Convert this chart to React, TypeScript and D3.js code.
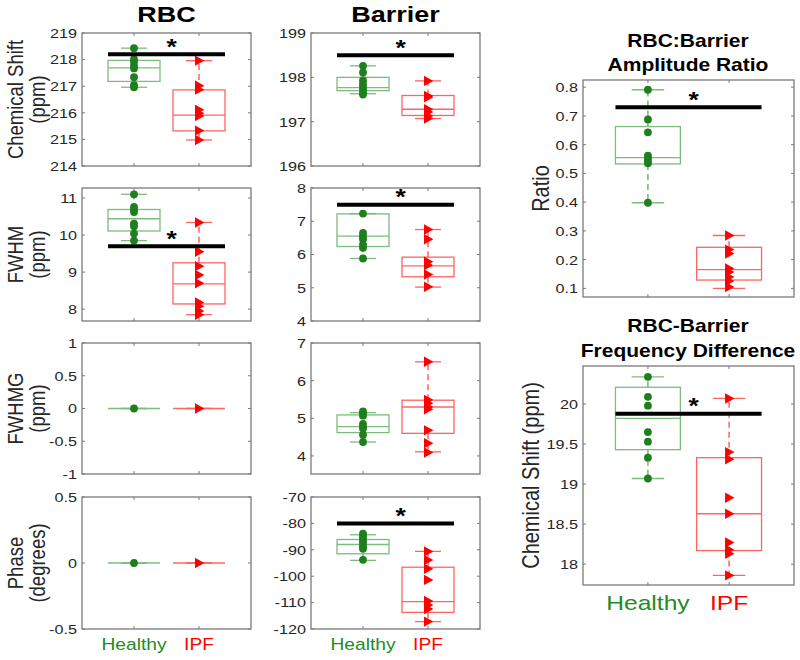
import React from 'react';
import * as d3 from 'd3';

// ---------- data ----------
const groups = ['Healthy', 'IPF'];

// box stats: [lower whisker, q1, median, q3, upper whisker]
const rbcShiftHealthy = [218.43, 218.02, 217.92, 217.77, 217.67, 217.34, 217.04, 216.96];
const rbcShiftIPF = [217.96, 217.02, 216.87, 216.11, 215.98, 215.88, 215.33, 214.98];
const rbcShiftBoxHealthy = [216.96, 217.18, 217.69, 217.97, 218.43];
const rbcShiftBoxIPF = [214.98, 215.32, 215.91, 216.86, 217.96];
const rbcShiftTicks = [214, 215, 216, 217, 218, 219];
const rbcShiftSig = 218.2;

const barShiftHealthy = [198.26, 198.11, 197.93, 197.85, 197.78, 197.72, 197.65, 197.61];
const barShiftIPF = [197.92, 197.58, 197.55, 197.28, 197.22, 197.13, 197.07];
const barShiftBoxHealthy = [197.63, 197.7, 197.77, 198.0, 198.26];
const barShiftBoxIPF = [197.07, 197.14, 197.28, 197.59, 197.92];
const barShiftTicks = [196, 197, 198, 199];
const barShiftSig = 198.5;

const rbcFwhmHealthy = [11.1, 10.76, 10.69, 10.62, 10.31, 10.24, 10.04, 9.85];
const rbcFwhmIPF = [10.34, 9.55, 9.16, 8.92, 8.7, 8.18, 8.08, 7.95, 7.85];
const rbcFwhmBoxHealthy = [9.85, 10.11, 10.44, 10.69, 11.1];
const rbcFwhmBoxIPF = [7.85, 8.14, 8.68, 9.25, 10.34];
const rbcFwhmTicks = [8, 9, 10, 11];
const rbcFwhmSig = 9.7;

const barFwhmHealthy = [7.23, 6.65, 6.55, 6.46, 6.3, 6.2, 5.88];
const barFwhmIPF = [6.75, 6.46, 5.78, 5.68, 5.4, 5.03];
const barFwhmBoxHealthy = [5.88, 6.24, 6.55, 7.22, 7.23];
const barFwhmBoxIPF = [5.02, 5.33, 5.66, 5.92, 6.75];
const barFwhmTicks = [4, 5, 6, 7, 8];
const barFwhmSig = 7.5;

const rbcFwhmgHealthy = [0];
const rbcFwhmgIPF = [0];
const rbcFwhmgBoxHealthy = [0, 0, 0, 0, 0];
const rbcFwhmgBoxIPF = [0, 0, 0, 0, 0];
const rbcFwhmgTicks = [-1, -0.5, 0, 0.5, 1];

const barFwhmgHealthy = [5.18, 5.12, 5.07, 4.85, 4.78, 4.73, 4.56, 4.37];
const barFwhmgIPF = [6.5, 5.49, 5.4, 5.3, 5.24, 4.68, 4.34, 4.09];
const barFwhmgBoxHealthy = [4.37, 4.62, 4.78, 5.09, 5.15];
const barFwhmgBoxIPF = [4.11, 4.6, 5.3, 5.48, 6.5];
const barFwhmgTicks = [4, 5, 6, 7];

const rbcPhaseHealthy = [0];
const rbcPhaseIPF = [0];
const rbcPhaseBoxHealthy = [0, 0, 0, 0, 0];
const rbcPhaseBoxIPF = [0, 0, 0, 0, 0];
const rbcPhaseTicks = [-0.5, 0, 0.5];

const barPhaseHealthy = [-83.9, -84.8, -85.8, -86.8, -87.8, -88.9, -89.6, -93.8];
const barPhaseIPF = [-90.6, -93.9, -97.2, -101.4, -109.4, -110.9, -112.4, -117.2];
const barPhaseBoxHealthy = [-94.0, -91.5, -88.0, -86.1, -84.3];
const barPhaseBoxIPF = [-117.2, -113.7, -109.6, -96.6, -90.6];
const barPhaseTicks = [-120, -110, -100, -90, -80, -70];
const barPhaseSig = -80;

const ratioHealthy = [0.791, 0.688, 0.643, 0.562, 0.552, 0.544, 0.535, 0.398];
const ratioIPF = [0.284, 0.235, 0.221, 0.169, 0.157, 0.14, 0.126, 0.105];
const ratioBoxHealthy = [0.398, 0.533, 0.555, 0.663, 0.791];
const ratioBoxIPF = [0.1, 0.129, 0.165, 0.243, 0.284];
const ratioTicks = [0.1, 0.2, 0.3, 0.4, 0.5, 0.6, 0.7, 0.8];
const ratioSig = 0.73;

const freqHealthy = [20.34, 20.09, 19.98, 19.65, 19.53, 19.33, 19.07];
const freqIPF = [20.07, 19.4, 19.31, 18.83, 18.63, 18.27, 18.18, 18.13, 17.86];
const freqBoxHealthy = [19.07, 19.43, 19.82, 20.21, 20.34];
const freqBoxIPF = [17.86, 18.17, 18.63, 19.33, 20.07];
const freqTicks = [18, 18.5, 19, 19.5, 20];
const freqSig = 19.88;

// ---------- style ----------
const FONT = 'Liberation Sans, Arial, Helvetica, sans-serif';
const SX = 1.2;
const GREEN = '#1d7f1d';
const GREEN_LIGHT = '#7cbc7c';
const RED = '#ff0000';
const RED_LIGHT = '#ff6464';
const AXIS = '#7a7a7a';
const TXT = '#262626';

type PanelCfg = {
  x0: number; x1: number; y0: number; y1: number;
  domain: [number, number];
  ticks: number[];
  pts: number[][];
  box: number[][];
  sig?: number;
  ylab?: string[];
  ylabX?: number[];
  ylabSize?: number;
  xlab?: boolean;
  xlabSize?: number;
  xlabY?: number;
};

const panels: PanelCfg[] = [
  { x0: 82, x1: 251, y0: 33, y1: 166, domain: [214, 219], ticks: rbcShiftTicks, pts: [rbcShiftHealthy, rbcShiftIPF], box: [rbcShiftBoxHealthy, rbcShiftBoxIPF], sig: rbcShiftSig, ylab: ['Chemical Shift', '(ppm)'], ylabX: [23, 45], ylabSize: 18.5 },
  { x0: 311, x1: 480, y0: 33, y1: 166, domain: [196, 199], ticks: barShiftTicks, pts: [barShiftHealthy, barShiftIPF], box: [barShiftBoxHealthy, barShiftBoxIPF], sig: barShiftSig },
  { x0: 82, x1: 251, y0: 188, y1: 321, domain: [7.68, 11.27], ticks: rbcFwhmTicks, pts: [rbcFwhmHealthy, rbcFwhmIPF], box: [rbcFwhmBoxHealthy, rbcFwhmBoxIPF], sig: rbcFwhmSig, ylab: ['FWHM', '(ppm)'], ylabX: [23, 45], ylabSize: 18.5 },
  { x0: 311, x1: 480, y0: 188, y1: 321, domain: [4, 8], ticks: barFwhmTicks, pts: [barFwhmHealthy, barFwhmIPF], box: [barFwhmBoxHealthy, barFwhmBoxIPF], sig: barFwhmSig },
  { x0: 82, x1: 251, y0: 343, y1: 474, domain: [-1, 1], ticks: rbcFwhmgTicks, pts: [rbcFwhmgHealthy, rbcFwhmgIPF], box: [rbcFwhmgBoxHealthy, rbcFwhmgBoxIPF], ylab: ['FWHMG', '(ppm)'], ylabX: [23, 45], ylabSize: 18.5 },
  { x0: 311, x1: 480, y0: 343, y1: 474, domain: [3.52, 7], ticks: barFwhmgTicks, pts: [barFwhmgHealthy, barFwhmgIPF], box: [barFwhmgBoxHealthy, barFwhmgBoxIPF] },
  { x0: 82, x1: 251, y0: 497, y1: 629, domain: [-0.5, 0.5], ticks: rbcPhaseTicks, pts: [rbcPhaseHealthy, rbcPhaseIPF], box: [rbcPhaseBoxHealthy, rbcPhaseBoxIPF], ylab: ['Phase', '(degrees)'], ylabX: [23, 45], ylabSize: 18.5, xlab: true, xlabSize: 16, xlabY: 650 },
  { x0: 311, x1: 480, y0: 497, y1: 629, domain: [-120, -70], ticks: barPhaseTicks, pts: [barPhaseHealthy, barPhaseIPF], box: [barPhaseBoxHealthy, barPhaseBoxIPF], sig: barPhaseSig, xlab: true, xlabSize: 16, xlabY: 650 },
  { x0: 583, x1: 794, y0: 80, y1: 297, domain: [0.07, 0.825], ticks: ratioTicks, pts: [ratioHealthy, ratioIPF], box: [ratioBoxHealthy, ratioBoxIPF], sig: ratioSig, ylab: ['Ratio'], ylabX: [549], ylabSize: 20 },
  { x0: 583, x1: 794, y0: 366, y1: 585, domain: [17.74, 20.475], ticks: freqTicks, pts: [freqHealthy, freqIPF], box: [freqBoxHealthy, freqBoxIPF], sig: freqSig, ylab: ['Chemical Shift (ppm)'], ylabX: [539], ylabSize: 20, xlab: true, xlabSize: 20.5, xlabY: 610 },
];

function T(props: { x: number; y: number; rot?: number; size: number; weight?: string; anchor?: string; fill?: string; dy?: string; children: React.ReactNode }) {
  const { x, y, rot, size, weight, anchor, fill, dy, children } = props;
  return (
    <text
      transform={`translate(${x},${y}) scale(${SX},1)${rot ? ` rotate(${rot})` : ''}`}
      fontSize={size}
      fontWeight={weight || 'normal'}
      textAnchor={anchor || 'middle'}
      fill={fill || TXT}
      fontFamily={FONT}
      dy={dy}
    >
      {children}
    </text>
  );
}

function fmt(v: number) {
  return String(Math.round(v * 1000) / 1000);
}

function Panel({ p }: { p: PanelCfg }) {
  const x = d3.scaleLinear().domain([0.2, 2.8]).range([p.x0, p.x1]);
  const y = d3.scaleLinear().domain(p.domain).range([p.y1, p.y0]);
  const unit = x(1) - x(0);
  const cols = [
    { c: GREEN, light: GREEN_LIGHT },
    { c: RED, light: RED_LIGHT },
  ];
  const tri = (cx: number, cy: number) =>
    `M${cx - 4},${cy - 5.2}L${cx - 4},${cy + 5.2}L${cx + 5.4},${cy}Z`;
  return (
    <g>
      {/* boxes */}
      {p.box.map((b, gi) => {
        const cx = x(gi + 1);
        const hw = 0.4 * unit;
        const cw = 0.2 * unit;
        const col = cols[gi].light;
        return (
          <g key={'b' + gi} stroke={col} strokeWidth={1.3} fill="none">
            <line x1={cx} x2={cx} y1={y(b[3])} y2={y(b[4])} strokeDasharray="6,4" stroke={gi === 0 ? '#5da95d' : '#ff4a4a'} />
            <line x1={cx} x2={cx} y1={y(b[1])} y2={y(b[0])} strokeDasharray="6,4" stroke={gi === 0 ? '#5da95d' : '#ff4a4a'} />
            <line x1={cx - cw} x2={cx + cw} y1={y(b[4])} y2={y(b[4])} />
            <line x1={cx - cw} x2={cx + cw} y1={y(b[0])} y2={y(b[0])} />
            <rect x={cx - hw} y={y(b[3])} width={2 * hw} height={Math.max(0, y(b[1]) - y(b[3]))} />
            <line x1={cx - hw} x2={cx + hw} y1={y(b[2])} y2={y(b[2])} />
          </g>
        );
      })}
      {/* points */}
      {p.pts.map((arr, gi) =>
        arr.map((v, i) =>
          gi === 0 ? (
            <circle key={`p${gi}-${i}`} cx={x(1)} cy={y(v)} r={3.9} fill={GREEN} />
          ) : (
            <path key={`p${gi}-${i}`} d={tri(x(2), y(v))} fill={RED} />
          )
        )
      )}
      {/* axes frame */}
      <rect x={p.x0} y={p.y0} width={p.x1 - p.x0} height={p.y1 - p.y0} fill="none" stroke={AXIS} strokeWidth={1.3} />
      {p.ticks.map((t) => (
        <g key={'t' + t}>
          <line x1={p.x0} x2={p.x0 + 3} y1={y(t)} y2={y(t)} stroke={AXIS} />
          <line x1={p.x1} x2={p.x1 - 3} y1={y(t)} y2={y(t)} stroke={AXIS} />
          <T x={p.x0 - 5} y={y(t)} size={13.5} anchor="end" dy="0.36em">{fmt(t)}</T>
        </g>
      ))}
      {[1, 2].map((t) => (
        <g key={'xt' + t}>
          <line x1={x(t)} x2={x(t)} y1={p.y1} y2={p.y1 - 3} stroke={AXIS} />
          <line x1={x(t)} x2={x(t)} y1={p.y0} y2={p.y0 + 3} stroke={AXIS} />
        </g>
      ))}
      {/* significance */}
      {p.sig !== undefined && (
        <g>
          <line x1={x(0.6)} x2={x(2.4)} y1={y(p.sig)} y2={y(p.sig)} stroke="#000" strokeWidth={4} />
          <T x={x(1.5)} y={y(p.sig) - 0.5} size={22} weight="bold" anchor="start" fill="#000">*</T>
        </g>
      )}
      {/* y label */}
      {p.ylab &&
        p.ylab.map((s, i) => (
          <T key={'yl' + i} x={p.ylabX![i]} y={(p.y0 + p.y1) / 2} rot={-90} size={p.ylabSize!}>{s}</T>
        ))}
      {/* x labels */}
      {p.xlab &&
        groups.map((g, gi) => (
          <T key={'xl' + gi} x={x(gi + 1)} y={p.xlabY!} size={p.xlabSize!} fill={gi === 0 ? '#228b22' : RED}>{g}</T>
        ))}
    </g>
  );
}

export default function App() {
  return (
    <svg width={800} height={660} style={{ display: 'block', position: 'absolute', left: 0, top: 0, background: '#fff' }}>
      <rect width={800} height={660} fill="#fff" />
      <T x={166.5} y={22} size={22.5} weight="bold" fill="#000">RBC</T>
      <T x={395.5} y={22} size={22.5} weight="bold" fill="#000">Barrier</T>
      <T x={688} y={47} size={17.5} weight="bold" fill="#000">RBC:Barrier</T>
      <T x={688} y={71} size={17.5} weight="bold" fill="#000">Amplitude Ratio</T>
      <T x={688} y={332} size={17.5} weight="bold" fill="#000">RBC-Barrier</T>
      <T x={688} y={357} size={17.5} weight="bold" fill="#000">Frequency Difference</T>
      {panels.map((p, i) => (
        <Panel key={i} p={p} />
      ))}
    </svg>
  );
}
